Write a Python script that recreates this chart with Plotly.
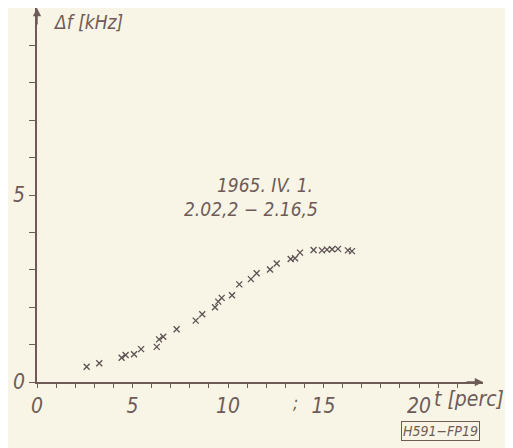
import plotly.graph_objects as go

# Data: t [perc] vs Δf [kHz]
t_min = [2.60, 3.26, 4.43, 4.64, 5.08, 5.45, 6.27, 6.39, 6.61, 7.31,
         8.31, 8.65, 9.32, 9.49, 9.67, 10.21, 10.59, 11.20, 11.50, 12.20,
         12.55, 13.28, 13.51, 13.77, 14.48, 14.92, 15.18, 15.45, 15.76, 16.28, 16.49]
df_khz = [0.41, 0.50, 0.65, 0.72, 0.74, 0.88, 0.94, 1.14, 1.21, 1.41,
          1.64, 1.81, 2.00, 2.15, 2.25, 2.32, 2.61, 2.75, 2.91, 3.01,
          3.17, 3.29, 3.31, 3.46, 3.53, 3.52, 3.54, 3.55, 3.56, 3.52, 3.50]

x_tickvals = list(range(0, 23))
x_ticktext = [str(v) if v % 5 == 0 else "" for v in x_tickvals]
y_tickvals = list(range(0, 10))
y_ticktext = [str(v) if v % 5 == 0 else "" for v in y_tickvals]

BG = "#f8f5e6"
INK = "#6e5b58"
DOT = "#5b5052"
FONT = "DejaVu Sans Condensed, Liberation Sans Narrow, DejaVu Sans, sans-serif"

# page has an 8px body margin; figure is sized to fit inside the window
OFF = 8
W, H = 513 - OFF, 448 - OFF
ML, MR, MT, MB = 37 - OFF, 30, 0, 66
PW, PH = W - ML - MR, H - MT - MB

XMAX = PW / 19.1
YMAX = PH / 37.4

fig = go.Figure()
fig.add_trace(go.Scatter(
    x=t_min, y=df_khz, mode="markers",
    marker=dict(symbol="x-thin-open", size=6, color=DOT, line=dict(width=1.3, color=DOT)),
    hoverinfo="skip", showlegend=False,
))

fig.update_layout(
    width=W, height=H,
    margin=dict(l=ML, r=MR, t=MT, b=MB, autoexpand=False),
    paper_bgcolor=BG, plot_bgcolor=BG,
    font=dict(family=FONT, color=INK),
    xaxis=dict(range=[0, XMAX], showgrid=False, zeroline=False, automargin=False,
               showline=True, linecolor=INK, linewidth=1.5,
               tickmode="array", tickvals=x_tickvals, ticktext=x_ticktext,
               ticks="outside", ticklen=4, tickwidth=1.3, tickcolor=INK,
               tickfont=dict(size=21, color=INK, family=FONT, style="italic")),
    yaxis=dict(range=[0, YMAX], showgrid=False, zeroline=False, automargin=False,
               showline=True, linecolor=INK, linewidth=1.5,
               tickmode="array", tickvals=y_tickvals, ticktext=y_ticktext,
               ticks="outside", ticklen=6, tickwidth=1.3, tickcolor=INK,
               tickfont=dict(size=21, color=INK, family=FONT, style="italic")),
)

ital = dict(family=FONT, color=INK, style="italic")

# axis arrows
fig.add_annotation(x=XMAX, y=0, xref="x", yref="y", ax=-18, ay=0, axref="pixel", ayref="pixel",
                   text="", showarrow=True, arrowhead=2, arrowsize=1.1, arrowwidth=1.5, arrowcolor=INK)
fig.add_annotation(x=0, y=YMAX, xref="x", yref="y", ax=0, ay=18, axref="pixel", ayref="pixel",
                   text="", showarrow=True, arrowhead=2, arrowsize=1.1, arrowwidth=1.5, arrowcolor=INK)

# axis titles (positions in page pixels, converted below)
fig.add_annotation(x=88, y=22, xref="paper", yref="paper", text="Δf [kHz]", showarrow=False,
                   font=dict(size=19, **ital))
fig.add_annotation(x=469, y=399, xref="paper", yref="paper", text="t [perc]", showarrow=False,
                   font=dict(size=21, **ital))

# date annotation
fig.add_annotation(x=11.94, y=5.27, xref="x", yref="y", text="1965. IV. 1.", showarrow=False,
                   font=dict(size=19, **ital))
fig.add_annotation(x=11.2, y=4.63, xref="x", yref="y", text="2.02,2 − 2.16,5", showarrow=False,
                   font=dict(size=19, **ital))

# stray mark and catalogue box
fig.add_annotation(x=295, y=403, xref="paper", yref="paper", text=";", showarrow=False,
                   font=dict(size=17, **ital))
fig.add_annotation(x=440, y=431, xref="paper", yref="paper", text="H591−FP19", showarrow=False,
                   font=dict(size=14, **ital), bordercolor=INK, borderwidth=1, borderpad=1)

# convert page pixel coordinates to paper fractions, centre-anchored
for a in fig.layout.annotations:
    a.xanchor = "center"
    a.yanchor = "middle"
    if a.xref == "paper":
        fx = a.x - OFF
        fy = a.y - OFF
        a.x = (fx - ML) / PW
        a.y = (H - fy - MB) / PH

fig.write_html("out.html")
